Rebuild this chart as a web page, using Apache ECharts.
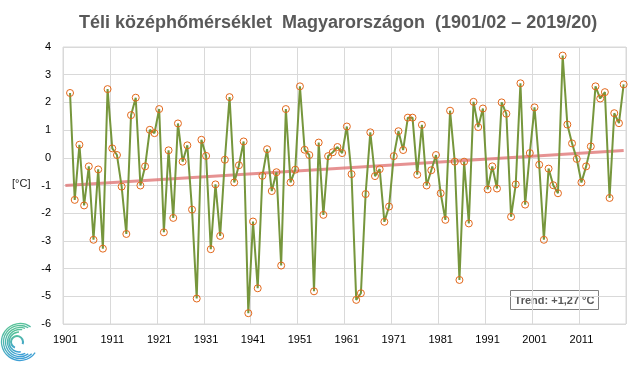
<!DOCTYPE html>
<html>
<head>
<meta charset="utf-8">
<script src="https://cdn.jsdelivr.net/npm/echarts@6/dist/echarts.min.js"></script>
<style>html,body{margin:0;padding:0;background:#fff;}#c{width:640px;height:365px;}</style>
</head>
<body>
<div id="c"></div>
<script>
// Category years (January year of each winter); first slot has no value
var firstYear = 1901, lastYear = 2020;
var categories = [];
for (var y = firstYear; y <= lastYear; y++) categories.push(String(y));

// Winter mean temperatures 1901/02 ... 2019/20 (°C)
var winterTemp = [
  2.34, -1.52, 0.47, -1.72, -0.31, -2.96, -0.42, -3.28, 2.48, 0.34,
  0.10, -1.04, -2.75, 1.54, 2.17, -1.00, -0.31, 1.01, 0.89, 1.76,
  -2.69, 0.27, -2.17, 1.24, -0.14, 0.45, -1.87, -5.08, 0.65, 0.07,
  -3.30, -0.96, -2.82, -0.07, 2.19, -0.89, -0.27, 0.59, -5.61, -2.30,
  -4.71, -0.65, 0.31, -1.20, -0.52, -3.89, 1.76, -0.89, -0.43, 2.58,
  0.29, 0.10, -4.82, 0.55, -2.06, 0.06, 0.20, 0.39, 0.17, 1.13,
  -0.59, -5.13, -4.89, -1.31, 0.92, -0.66, -0.41, -2.31, -1.76, 0.06,
  0.96, 0.28, 1.45, 1.45, -0.61, 1.19, -1.00, -0.45, 0.10, -1.28,
  -2.24, 1.70, -0.14, -4.41, -0.14, -2.37, 2.02, 1.11, 1.78, -1.14,
  -0.31, -1.11, 2.00, 1.59, -2.13, -0.96, 2.69, -1.69, 0.17, 1.82,
  -0.25, -2.96, -0.39, -0.99, -1.28, 3.69, 1.20, 0.52, -0.04, -0.89,
  -0.31, 0.41, 2.58, 2.14, 2.37, -1.45, 1.61, 1.25, 2.65
];

// Linear trend end points (category index, value)
var trendPoints = [[0, -1.00], [119, 0.26]];
var trendLabel = 'Trend: +1,27 °C';

var yTicks = {min: -6, max: 4, interval: 1};

var seriesData = [null].concat(winterTemp);

var chart = echarts.init(document.getElementById('c'), null, {renderer: 'canvas'});

var logoGrad = {
  type: 'linear', x: 0, y: 0, x2: 0.3, y2: 1,
  colorStops: [{offset: 0, color: '#5DC98C'}, {offset: 1, color: '#3E9FD6'}]
};
function arc(cx, cy, r, a0, a1, w) {
  return {
    type: 'arc', silent: true,
    shape: {cx: cx, cy: cy, r: r, startAngle: a0 * Math.PI / 180, endAngle: a1 * Math.PI / 180, clockwise: true},
    style: {stroke: logoGrad, lineWidth: w, fill: null}
  };
}

chart.setOption({
  animation: false,
  title: {
    text: 'Téli középhőmérséklet  Magyarországon  (1901/02 – 2019/20)',
    left: 74, top: 9,
    textStyle: {fontFamily: 'Liberation Sans', fontSize: 18, fontWeight: 'bold', color: '#595959'}
  },
  grid: {left: 63, right: 14, top: 47, bottom: 41, show: true, borderColor: '#D9D9D9', borderWidth: 1},
  xAxis: {
    type: 'category', data: categories, boundaryGap: true,
    axisLine: {show: false}, axisTick: {show: false},
    axisLabel: {interval: 9, color: '#000', fontFamily: 'Liberation Sans', fontSize: 11, margin: 10},
    splitLine: {show: true, interval: 9, lineStyle: {color: '#D9D9D9', width: 1}}
  },
  yAxis: {
    type: 'value', min: yTicks.min, max: yTicks.max, interval: yTicks.interval,
    axisLine: {show: false}, axisTick: {show: false},
    axisLabel: {color: '#000', fontFamily: 'Liberation Sans', fontSize: 11, margin: 12},
    splitLine: {lineStyle: {color: '#D9D9D9', width: 1}}
  },
  series: [
    {
      type: 'line', data: trendPoints, symbol: 'none', z: 1,
      lineStyle: {color: 'rgba(222,110,110,0.75)', width: 3}
    },
    {
      type: 'line', data: seriesData, z: 2,
      symbol: 'circle', symbolSize: 7, showAllSymbol: true,
      lineStyle: {color: '#76963C', width: 2},
      itemStyle: {color: 'rgba(255,255,255,0)', borderColor: '#E2671A', borderWidth: 1}
    }
  ],
  graphic: [
    {type: 'text', left: 12, top: 178, style: {text: '[°C]', fill: '#222', font: '11px "Liberation Sans"'}},
    {type: 'group', left: 510, top: 290, children: [
      {type: 'rect', shape: {x: 0, y: 0, width: 88, height: 19}, style: {fill: '#fff', stroke: '#808080', lineWidth: 1}},
      {type: 'text', x: 44, y: 10, style: {text: trendLabel, fill: '#595959', font: 'bold 11px "Liberation Sans"', textAlign: 'center', textVerticalAlign: 'middle'}}
    ]},
    arc(20, 342, 18.5, 35, 305, 1.3),
    arc(20, 342, 16.5, 45, 300, 1.3),
    arc(20, 342, 14.5, 55, 290, 1.3),
    arc(20, 342, 12.5, 65, 280, 1.3),
    arc(19, 342, 10, 80, 270, 1.5),
    arc(17, 342, 6, 110, 380, 2)
  ]
});
</script>
</body>
</html>
